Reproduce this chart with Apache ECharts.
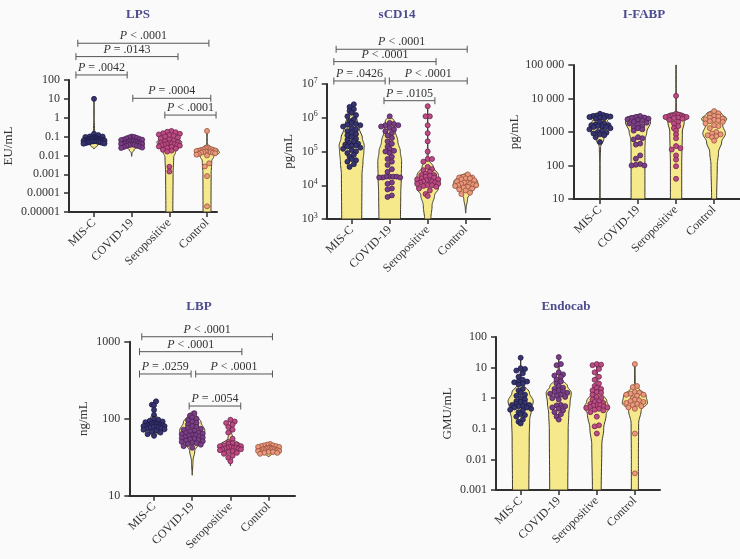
<!DOCTYPE html>
<html><head><meta charset="utf-8">
<script src="https://cdn.jsdelivr.net/npm/echarts@6/dist/echarts.min.js"></script>
<style>html,body{margin:0;padding:0;background:#fafafa}#c{width:740px;height:559px}</style>
</head><body><div id="c"></div>
<script>
// ---------- categories / labels ----------
const groups = ['MIS-C', 'COVID-19', 'Seropositive', 'Control'];
const panelTitles = ['LPS', 'sCD14', 'I-FABP', 'LBP', 'Endocab'];
const axisNames = ['EU/mL', 'pg/mL', 'pg/mL', 'ng/mL', 'GMU/mL'];

// ---------- tick values & labels ----------
const lpsTicks = [0.00001, 0.0001, 0.001, 0.01, 0.1, 1, 10, 100];
const lpsTickLabels = ['0.00001', '0.0001', '0.001', '0.01', '0.1', '1', '10', '100'];
const scdTicks = [1e3, 1e4, 1e5, 1e6, 1e7];
const scdTickLabels = ['10{s|3}', '10{s|4}', '10{s|5}', '10{s|6}', '10{s|7}'];
const ifabpTicks = [10, 100, 1000, 10000, 100000];
const ifabpTickLabels = ['10', '100', '1000', '10 000', '100 000'];
const lbpTicks = [10, 100, 1000];
const lbpTickLabels = ['10', '100', '1000'];
const endoTicks = [0.001, 0.01, 0.1, 1, 10, 100];
const endoTickLabels = ['0.001', '0.01', '0.1', '1', '10', '100'];

// ---------- LPS (EU/mL) ----------
const lpsMisc = [10, 0.14, 0.12, 0.1, 0.1, 0.095, 0.09, 0.09, 0.085, 0.08, 0.08, 0.078, 0.075, 0.073, 0.07, 0.07, 0.068, 0.066, 0.065, 0.064, 0.062, 0.06, 0.06, 0.058, 0.057, 0.056, 0.055, 0.054, 0.052, 0.05, 0.05, 0.048, 0.046, 0.045, 0.043, 0.042];
const lpsCovid = [0.1, 0.095, 0.09, 0.085, 0.08, 0.075, 0.07, 0.068, 0.065, 0.062, 0.06, 0.058, 0.055, 0.053, 0.05, 0.05, 0.048, 0.046, 0.045, 0.044, 0.042, 0.04, 0.04, 0.038, 0.036, 0.035, 0.033, 0.032, 0.03, 0.028, 0.026, 0.025];
const lpsSero = [0.2, 0.18, 0.17, 0.15, 0.14, 0.13, 0.12, 0.11, 0.1, 0.09, 0.08, 0.07, 0.06, 0.055, 0.05, 0.048, 0.045, 0.043, 0.04, 0.04, 0.038, 0.036, 0.035, 0.033, 0.03, 0.028, 0.025, 0.023, 0.02, 0.018, 0.016, 0.0025, 0.0014];
const lpsControl = [0.2, 0.026, 0.024, 0.022, 0.021, 0.02, 0.019, 0.018, 0.018, 0.017, 0.017, 0.016, 0.016, 0.015, 0.015, 0.014, 0.014, 0.013, 0.012, 0.012, 0.011, 0.01, 0.0038, 0.0026, 0.0008, 0.00002];
const lpsViolins = [
  [[10, 0], [1, 0.01], [0.15, 0.05], [0.12, 0.5], [0.09, 0.9], [0.07, 1], [0.05, 0.7], [0.035, 0.3], [0.022, 0]],
  [[0.11, 0], [0.08, 0.7], [0.05, 1], [0.032, 0.6], [0.02, 0.2], [0.013, 0.03], [0.009, 0]],
  [[0.22, 0], [0.17, 0.35], [0.1, 0.6], [0.05, 1], [0.03, 0.85], [0.015, 0.5], [0.008, 0.35], [0.001, 0.3], [0.00001, 0.28]],
  [[0.2, 0], [0.04, 0.02], [0.028, 0.3], [0.02, 0.9], [0.014, 1], [0.009, 0.55], [0.005, 0.38], [0.001, 0.33], [0.00001, 0.32]]
];
const lpsBrackets = [[-0.43, 3.05, 8900, 'P < .0001'], [-0.48, 2.23, 1740, 'P = .0143'], [-0.48, 0.88, 185, 'P = .0042'], [1.03, 3.1, 10.7, 'P = .0004'], [1.88, 3.24, 1.38, 'P < .0001']];

// ---------- sCD14 (pg/mL) ----------
const scdMisc = [2.5e6, 2.1e6, 1.8e6, 1.6e6, 1.4e6, 1.2e6, 1.1e6, 9e5, 8e5, 7e5, 6.5e5, 6.2e5, 6e5, 5.5e5, 5e5, 4.5e5, 4e5, 3.6e5, 3.3e5, 3e5, 2.7e5, 2.4e5, 2.2e5, 2e5, 1.8e5, 1.7e5, 1.6e5, 1.5e5, 1.5e5, 1.4e5, 1.3e5, 1.2e5, 1.1e5, 1e5, 9e4, 8e4, 7e4, 6e4, 5.5e4, 5e4, 4.2e4, 3.5e4];
const scdCovid = [1.1e6, 7e5, 6.5e5, 6e5, 6e5, 5.5e5, 5e5, 4.5e5, 4e5, 3.5e5, 3e5, 2.5e5, 2e5, 1.7e5, 1.4e5, 1.2e5, 1.05e5, 1e5, 9e4, 7e4, 6e4, 5e4, 4e4, 3e4, 2.5e4, 1.8e4, 1.8e4, 1.8e4, 1.8e4, 1.7e4, 1.7e4, 1.7e4, 1.2e4, 1.1e4, 8e3, 7.5e3, 5e3, 4.5e3];
const scdSero = [2.2e6, 1.1e6, 1.1e6, 6e5, 3.5e5, 2e5, 1e5, 6e4, 6e4, 5e4, 3.5e4, 3e4, 2.8e4, 2.5e4, 2.2e4, 2e4, 2e4, 1.9e4, 1.8e4, 1.7e4, 1.6e4, 1.5e4, 1.5e4, 1.4e4, 1.4e4, 1.3e4, 1.3e4, 1.2e4, 1.2e4, 1.1e4, 1.1e4, 1e4, 1e4, 9.5e3, 9e3, 8e3, 7e3, 5.5e3, 4.8e3];
const scdControl = [2.1e4, 1.8e4, 1.7e4, 1.7e4, 1.6e4, 1.6e4, 1.5e4, 1.4e4, 1.3e4, 1.2e4, 1.2e4, 1.1e4, 1.1e4, 1.05e4, 1e4, 1e4, 9.5e3, 9e3, 8.5e3, 8e3, 7.5e3, 7e3, 6e3, 5.5e3];
const scdViolins = [
  [[2.6e6, 0], [1.5e6, 0.2], [1e6, 0.4], [5e5, 0.6], [2.5e5, 0.85], [1.5e5, 1], [1e5, 0.97], [5e4, 0.9], [2e4, 0.82], [1e3, 0.8]],
  [[1.2e6, 0], [8e5, 0.35], [4e5, 0.45], [2e5, 0.65], [1e5, 0.85], [5e4, 0.95], [2e4, 0.93], [5e3, 0.88], [1e3, 0.86]],
  [[2.3e6, 0], [2e5, 0.01], [6e4, 0.05], [3.5e4, 0.45], [2e4, 0.85], [1.3e4, 1], [8e3, 0.85], [5e3, 0.55], [2.5e3, 0.35], [1e3, 0.25]],
  [[2.3e4, 0], [1.8e4, 0.6], [1.3e4, 0.95], [1e4, 1], [7e3, 0.55], [4e3, 0.15], [2e3, 0.03], [1.5e3, 0]]
];
const scdBrackets = [[-0.41, 3.04, 1.07e8, 'P < .0001'], [-0.47, 2.22, 4.6e7, 'P < .0001'], [-0.47, 0.88, 1.23e7, 'P = .0426'], [0.99, 3.04, 1.23e7, 'P < .0001'], [0.85, 2.19, 3.2e6, 'P = .0105']];

// ---------- I-FABP (pg/mL) ----------
const ifabpMisc = [3500, 3200, 3100, 3000, 3000, 2900, 2800, 2700, 2600, 2500, 2000, 1800, 1700, 1600, 1600, 1500, 1500, 1400, 1400, 1300, 1200, 1100, 1000, 950, 900, 850, 800, 700, 500];
const ifabpCovid = [3000, 2800, 2700, 2600, 2500, 2400, 2300, 2200, 2000, 1900, 1800, 1700, 1500, 1400, 1300, 1200, 1100, 700, 650, 600, 450, 420, 200, 160, 110, 105, 100, 100];
const ifabpSero = [12000, 3500, 3300, 3100, 3000, 3000, 2900, 2900, 2800, 2800, 2700, 2600, 2500, 2300, 2000, 1800, 1500, 1300, 1100, 850, 650, 380, 330, 300, 200, 150, 95, 40];
const ifabpControl = [4200, 3600, 3300, 3000, 2900, 2700, 2500, 2400, 2300, 2200, 2100, 2000, 1800, 1600, 1500, 1300, 1000, 900, 850, 800, 750, 700, 550];
const ifabpViolins = [
  [[3700, 0], [3200, 0.8], [2800, 1], [2200, 0.6], [1500, 0.8], [1000, 0.7], [600, 0.3], [350, 0.05], [100, 0.01], [10, 0.01]],
  [[3400, 0], [2800, 0.85], [2000, 1], [1000, 0.7], [600, 0.58], [300, 0.55], [100, 0.55], [10, 0.55]],
  [[100000, 0], [4000, 0.02], [3500, 0.6], [2800, 1], [2000, 0.65], [1000, 0.5], [100, 0.45], [10, 0.45]],
  [[4800, 0], [3500, 0.6], [2500, 1], [1600, 0.68], [900, 0.9], [500, 0.6], [250, 0.35], [100, 0.25], [10, 0.2]]
];

// ---------- LBP (ng/mL) ----------
const lbpMisc = [168, 152, 150, 130, 112, 100, 97, 94, 92, 90, 88, 87, 86, 85, 84, 83, 83, 82, 82, 81, 80, 80, 79, 78, 77, 76, 75, 74, 73, 72, 70, 68, 66, 63, 60];
const lbpCovid = [118, 110, 104, 100, 96, 92, 88, 84, 80, 78, 76, 74, 72, 70, 68, 66, 65, 64, 63, 62, 61, 60, 59, 58, 57, 56, 55, 54, 53, 52, 51, 50, 49, 48, 47, 46, 44, 42];
const lbpSero = [97, 92, 88, 84, 78, 72, 66, 55, 50, 48, 47, 46, 45, 44, 44, 43, 43, 42, 42, 42, 41, 41, 40, 40, 39, 38, 37, 36, 35, 33, 31, 28];
const lbpControl = [47, 46, 45, 45, 44, 44, 43, 43, 42, 42, 42, 41, 41, 41, 40, 40, 40, 39, 39, 39, 38, 38, 38, 37, 37, 36, 36, 35];
const lbpViolins = [
  [[175, 0], [120, 0.05], [100, 0.3], [88, 0.8], [82, 1], [75, 0.7], [65, 0.3], [56, 0]],
  [[125, 0], [110, 0.35], [90, 0.7], [70, 1], [58, 0.9], [48, 0.55], [38, 0.2], [28, 0.06], [20, 0.02], [18.5, 0]],
  [[100, 0], [70, 0.05], [55, 0.2], [46, 0.8], [42, 1], [38, 0.6], [32, 0.2], [27, 0.05], [24.5, 0]],
  [[48, 0], [44, 0.8], [40, 1], [37, 0.8], [34, 0.2], [32, 0]]
];
const lbpBrackets = [[-0.32, 3.1, 1160, 'P < .0001'], [-0.38, 2.3, 742, 'P < .0001'], [-0.38, 0.97, 381, 'P = .0259'], [1.09, 3.1, 381, 'P < .0001'], [0.92, 2.27, 146, 'P = .0054']];

// ---------- Endocab (GMU/mL) ----------
const endoMisc = [21, 9.5, 9, 8, 6.5, 5, 4, 3.5, 3.5, 3.3, 3, 2.8, 2, 1.8, 1.5, 1.3, 1.2, 1, 0.9, 0.8, 0.75, 0.7, 0.65, 0.6, 0.6, 0.55, 0.55, 0.5, 0.5, 0.45, 0.42, 0.4, 0.35, 0.3, 0.28, 0.25, 0.2, 0.17, 0.15];
const endoCovid = [22, 13, 12, 7, 6, 5.5, 5, 4, 3.5, 3, 2.5, 2.2, 2, 1.8, 1.7, 1.6, 1.5, 1.4, 1.3, 1.2, 1.1, 1, 0.9, 0.6, 0.58, 0.55, 0.5, 0.45, 0.4, 0.35, 0.3, 0.25, 0.2];
const endoSero = [13, 12.5, 12, 9, 7, 5, 4, 3, 2.5, 2.2, 2, 1.8, 1.6, 1.5, 1.3, 1.1, 1, 0.9, 0.8, 0.75, 0.7, 0.65, 0.6, 0.6, 0.58, 0.55, 0.52, 0.5, 0.48, 0.45, 0.42, 0.4, 0.35, 0.25, 0.13, 0.12, 0.07];
const endoControl = [13, 2.5, 2.3, 1.6, 1.5, 1.4, 1.3, 1.3, 1.2, 1, 0.9, 0.85, 0.8, 0.75, 0.7, 0.65, 0.6, 0.55, 0.5, 0.45, 0.07, 0.0035];
const endoViolins = [
  [[22, 0], [5, 0.05], [3, 0.2], [1.5, 0.7], [0.8, 1], [0.4, 0.85], [0.2, 0.72], [0.05, 0.68], [0.001, 0.65]],
  [[22, 0], [8, 0.05], [4, 0.3], [2.5, 0.7], [1.5, 1], [0.7, 0.9], [0.3, 0.8], [0.1, 0.75], [0.001, 0.72]],
  [[14, 0], [4, 0.08], [1.5, 0.4], [0.8, 0.8], [0.5, 1], [0.3, 0.75], [0.1, 0.55], [0.03, 0.4], [0.001, 0.35]],
  [[13, 0], [3, 0.03], [2.2, 0.3], [1.2, 0.9], [0.7, 1], [0.4, 0.5], [0.15, 0.3], [0.01, 0.28], [0.001, 0.28]]
];

// ---------- layout / style (not data) ----------
const FONT = '"Liberation Serif", "DejaVu Serif", serif';
const AX = '#2f2f2f';
const pointFill = ['#37356f', '#7a3f86', '#bd4c82', '#e99a7c'];
const pointEdge = ['#1d1b46', '#4a2256', '#6e2450', '#9c5240'];
const panels = [
  { ticks: lpsTicks, labels: lpsTickLabels, pts: [lpsMisc, lpsCovid, lpsSero, lpsControl], vio: lpsViolins, br: lpsBrackets,
    grid: { left: 69, top: 80, width: 148, height: 132 }, xr: [-0.664, 3.265], name: 54, title: [138, 15] },
  { ticks: scdTicks, labels: scdTickLabels, pts: [scdMisc, scdCovid, scdSero, scdControl], vio: scdViolins, br: scdBrackets,
    grid: { left: 326.7, top: 84, width: 163.3, height: 135 }, xr: [-0.658, 3.64], name: 32, title: [397, 15] },
  { ticks: ifabpTicks, labels: ifabpTickLabels, pts: [ifabpMisc, ifabpCovid, ifabpSero, ifabpControl], vio: ifabpViolins, br: [],
    grid: { left: 573.3, top: 65, width: 166.7, height: 134 }, xr: [-0.70, 3.68], name: 45, title: [644, 15] },
  { ticks: lbpTicks, labels: lbpTickLabels, pts: [lbpMisc, lbpCovid, lbpSero, lbpControl], vio: lbpViolins, br: lbpBrackets,
    grid: { left: 129.3, top: 341.7, width: 165.7, height: 154 }, xr: [-0.647, 3.69], name: 39, title: [199, 307] },
  { ticks: endoTicks, labels: endoTickLabels, pts: [endoMisc, endoCovid, endoSero, endoControl], vio: endoViolins, br: [],
    grid: { left: 496, top: 337, width: 164, height: 153 }, xr: [-0.648, 3.66], name: 42, title: [566, 307] }
];
const MAXHALF = 0.33;

function violinRender(profiles) {
  return function (params, api) {
    const g = api.value(0);
    const prof = profiles[g];
    const left = [], right = [];
    function push(v, d) {
      const w = Math.max(d, 0.012) * MAXHALF;
      left.push(api.coord([g - w, v]));
      right.push(api.coord([g + w, v]));
    }
    push(prof[0][0], prof[0][1]);
    for (let k = 1; k < prof.length; k++) {
      const l0 = Math.log10(prof[k - 1][0]), l1 = Math.log10(prof[k][0]);
      const d0 = prof[k - 1][1], d1 = prof[k][1];
      for (let s = 1; s <= 10; s++) {
        const t = s / 10, tt = (1 - Math.cos(Math.PI * t)) / 2;
        push(Math.pow(10, l0 + (l1 - l0) * t), d0 + (d1 - d0) * tt);
      }
    }
    return { type: 'polygon', shape: { points: left.concat(right.reverse()) },
      style: { fill: '#f6e98c', stroke: '#3f3a2c', lineWidth: 1 } };
  };
}

function bracketRender(list) {
  return function (params, api) {
    const b = list[params.dataIndex];
    const p1 = api.coord([b[0], b[2]]), p2 = api.coord([b[1], b[2]]);
    const st = { stroke: '#555', lineWidth: 1 };
    return { type: 'group', children: [
      { type: 'line', shape: { x1: p1[0], y1: p1[1], x2: p2[0], y2: p2[1] }, style: st },
      { type: 'line', shape: { x1: p1[0], y1: p1[1] - 3.5, x2: p1[0], y2: p1[1] + 3.5 }, style: st },
      { type: 'line', shape: { x1: p2[0], y1: p2[1] - 3.5, x2: p2[0], y2: p2[1] + 3.5 }, style: st },
      { type: 'text', x: (p1[0] + p2[0]) / 2, y: p1[1] - 1,
        style: { text: b[3].replace(/^P/, '{i|P}'), align: 'center', verticalAlign: 'bottom',
          fontFamily: FONT, fontSize: 12, fill: '#333',
          rich: { i: { fontStyle: 'italic', fontFamily: FONT, fontSize: 12, fill: '#333' } } } }
    ] };
  };
}

const grids = [], xAxes = [], yAxes = [], baseSeries = [], graphics = [];
panels.forEach((p, pi) => {
  grids.push(Object.assign({ containLabel: false }, p.grid));
  xAxes.push({
    type: 'value', gridIndex: pi, min: p.xr[0], max: p.xr[1],
    axisLine: { show: true, lineStyle: { color: AX, width: 2 } },
    axisTick: { show: true, length: 5, lineStyle: { color: AX, width: 1.5 }, customValues: [0, 1, 2, 3] },
    axisLabel: { customValues: [0, 1, 2, 3], rotate: 45, margin: 9, formatter: v => groups[Math.round(v)],
      fontFamily: FONT, fontSize: 12, color: '#333' },
    splitLine: { show: false }
  });
  const tl = p.labels;
  yAxes.push({
    type: 'log', logBase: 10, gridIndex: pi, min: p.ticks[0], max: p.ticks[p.ticks.length - 1],
    name: axisNames[pi], nameLocation: 'middle', nameGap: p.name, nameRotate: 90,
    nameTextStyle: { fontFamily: FONT, fontSize: 13, color: '#333' },
    axisLine: { show: true, onZero: false, lineStyle: { color: AX, width: 2 } },
    axisTick: { show: true, length: 5, lineStyle: { color: AX, width: 1.5 }, customValues: p.ticks },
    minorTick: { show: false },
    axisLabel: { customValues: p.ticks, margin: 9, fontFamily: FONT, fontSize: 12, color: '#333',
      formatter: v => tl[Math.round(Math.log10(v) - Math.log10(p.ticks[0]))],
      rich: { s: { fontFamily: FONT, fontSize: 8, color: '#333', padding: [0, 0, 7, 0] } } },
    splitLine: { show: false }
  });
  baseSeries.push({
    type: 'custom', xAxisIndex: pi, yAxisIndex: pi, renderItem: violinRender(p.vio), clip: false, silent: true,
    data: [0, 1, 2, 3].map(g => [g, p.ticks[1]]), encode: { x: 0, y: 1 }, z: 2, animation: false
  });
  if (p.br.length) {
    baseSeries.push({
      type: 'custom', xAxisIndex: pi, yAxisIndex: pi, renderItem: bracketRender(p.br), clip: false, silent: true,
      data: p.br.map(b => [b[0], b[1], b[2]]), encode: { x: [0, 1], y: 2 }, z: 4, animation: false
    });
  }
  graphics.push({ type: 'text', x: p.title[0], y: p.title[1],
    style: { text: panelTitles[pi], align: 'center', verticalAlign: 'middle',
      font: 'bold 13px ' + FONT, fill: '#4b4b8e' } });
});

const chart = echarts.init(document.getElementById('c'), null, { renderer: 'canvas' });
chart.setOption({
  backgroundColor: '#fafafa', animation: false,
  grid: grids, xAxis: xAxes, yAxis: yAxes, series: baseSeries, graphic: graphics
});

// GraphPad-style row layout of points: points falling into the same
// pixel row are spread side by side, compressed to a maximum half-width.
function rowLayout(pys, binH, step, maxW) {
  const idx = pys.map((y, i) => i).sort((a, b) => pys[a] - pys[b]);
  const out = new Array(pys.length);
  let k = 0;
  while (k < idx.length) {
    const start = pys[idx[k]];
    const row = [];
    while (k < idx.length && pys[idx[k]] - start < binH) { row.push(idx[k]); k++; }
    const n = row.length;
    const s = n > 1 ? Math.min(step, 2 * maxW / (n - 1)) : 0;
    // order: centre, then alternate right/left
    const slots = [];
    for (let j = 0; j < n; j++) slots.push((j - (n - 1) / 2) * s);
    slots.sort((a, b) => Math.abs(a) - Math.abs(b) || b - a);
    row.forEach((i, j) => { out[i] = slots[j]; });
  }
  return out;
}

const pointSeries = [];
panels.forEach((p, pi) => {
  const a = chart.convertToPixel({ gridIndex: pi }, [0, p.ticks[1]]);
  const b = chart.convertToPixel({ gridIndex: pi }, [1, p.ticks[1]]);
  const sp = b[0] - a[0];
  p.pts.forEach((vals, gi) => {
    const pys = vals.map(v => chart.convertToPixel({ gridIndex: pi }, [gi, v])[1]);
    const offs = rowLayout(pys, 3.6, 4.3, 10.5);
    pointSeries.push({
      type: 'scatter', xAxisIndex: pi, yAxisIndex: pi, symbol: 'circle', symbolSize: 5, silent: true,
      itemStyle: { color: pointFill[gi], borderColor: pointEdge[gi], borderWidth: 0.8, opacity: 1 },
      data: vals.map((v, k) => [gi + offs[k] / sp, v]), z: 3, animation: false
    });
  });
});
chart.setOption({ series: baseSeries.concat(pointSeries) });
</script>
</body></html>
